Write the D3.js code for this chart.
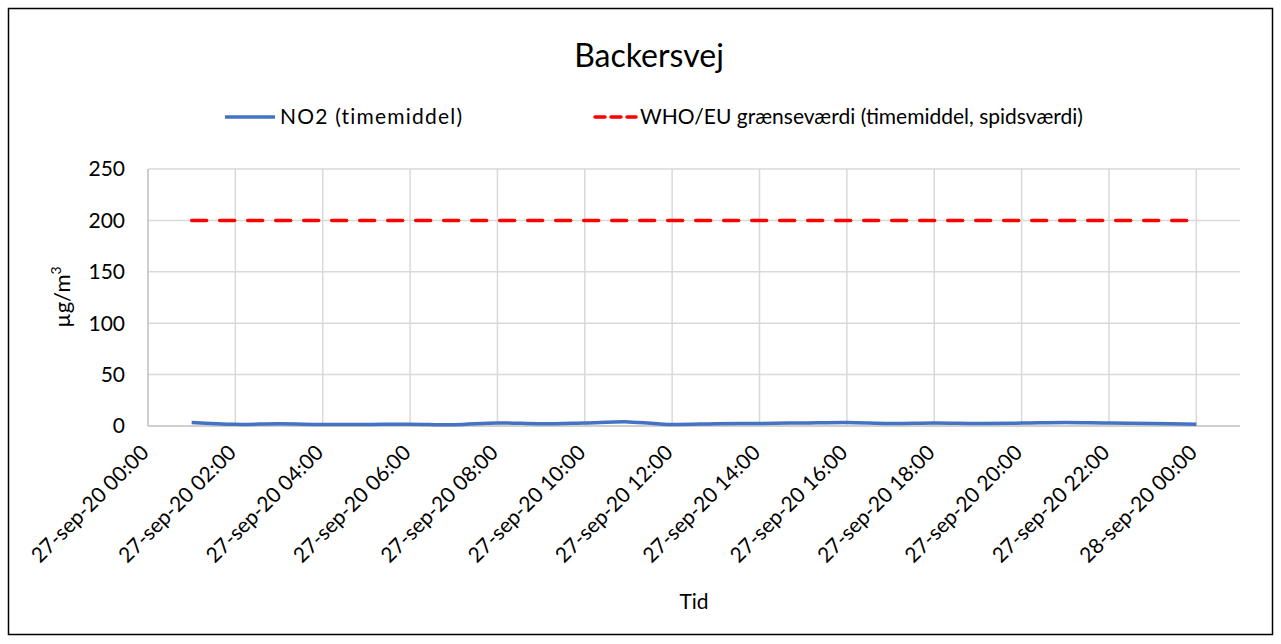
<!DOCTYPE html>
<html><head><meta charset="utf-8">
<script src="https://cdn.jsdelivr.net/npm/d3@7"></script>
<style>
body{margin:0;background:#fff}
text{font-family:Lato,'Liberation Sans',sans-serif;fill:#000}
</style>
</head><body>
<svg id="c" width="1281" height="644"></svg>
<script>
// ---- data ----
const hours = [1,2,3,4,5,6,7,8,9,10,11,12,13,14,15,16,17,18,19,20,21,22,23,24];
const no2   = [3.5,1.6,2.1,1.5,1.5,1.8,1.2,3.0,2.2,3.0,4.0,1.5,2.2,2.5,3.0,3.5,2.5,3.0,2.5,2.8,3.4,2.8,2.5,1.8];
const limitValues = [200,200,200,200,200,200,200,200,200,200,200,200,200,200,200,200,200,200,200,200,200,200,200,200];
const xTickHours  = [0,2,4,6,8,10,12,14,16,18,20,22,24];
const xTickLabels = ["27-sep-20 00:00","27-sep-20 02:00","27-sep-20 04:00","27-sep-20 06:00","27-sep-20 08:00","27-sep-20 10:00","27-sep-20 12:00","27-sep-20 14:00","27-sep-20 16:00","27-sep-20 18:00","27-sep-20 20:00","27-sep-20 22:00","28-sep-20 00:00"];
const yTicks = [0,50,100,150,200,250];
const seriesNames = ["NO2 (timemiddel)","WHO/EU grænseværdi (timemiddel, spidsværdi)"];

// ---- layout ----
const svg = d3.select("#c");
const L = 148, R = 1240, T = 169, B = 426;
const x = d3.scaleLinear().domain([0, 25]).range([L, R]);
const y = d3.scaleLinear().domain([0, 250]).range([B, T]);

svg.append("rect").attr("x",8.5).attr("y",8.5).attr("width",1264).attr("height",626)
   .attr("fill","#fff").attr("stroke","#000").attr("stroke-width",1.5);

svg.append("text").attr("x",649).attr("y",67).attr("text-anchor","middle")
   .style("font-size","32px").text("Backersvej");

// gridlines
const g = svg.append("g");
g.selectAll(".hg").data(yTicks.filter(d=>d>0)).join("line")
  .attr("x1",L).attr("x2",R).attr("y1",d=>y(d)).attr("y2",d=>y(d))
  .attr("stroke","#d9d9d9").attr("stroke-width",1.5);
g.selectAll(".vg").data(xTickHours.filter(d=>d>0)).join("line")
  .attr("x1",d=>x(d)).attr("x2",d=>x(d)).attr("y1",T).attr("y2",B)
  .attr("stroke","#d9d9d9").attr("stroke-width",1.5);
// axes lines
g.append("line").attr("x1",L).attr("x2",L).attr("y1",T).attr("y2",B).attr("stroke","#bfbfbf").attr("stroke-width",1.5);
g.append("line").attr("x1",L).attr("x2",R).attr("y1",B).attr("y2",B).attr("stroke","#bfbfbf").attr("stroke-width",1.5);

// y tick labels
svg.selectAll(".yt").data(yTicks).join("text")
  .attr("x",125).attr("y",d=>y(d)).attr("dy","0.35em").attr("text-anchor","end")
  .style("font-size","21px").text(d=>d);

// x tick labels
svg.selectAll(".xt").data(xTickHours).join("text")
  .attr("text-anchor","end")
  .attr("transform",(d)=>`translate(${x(d)+2},${454}) rotate(-45)`)
  .style("font-size","21px").text((d,i)=>xTickLabels[i]);

// axis titles
svg.append("text").attr("x",694).attr("y",609).attr("text-anchor","middle").style("font-size","21px").text("Tid");
const yt = svg.append("text").attr("transform","translate(70,297) rotate(-90)").attr("text-anchor","middle").style("font-size","22px");
yt.append("tspan").text("µg/m");
yt.append("tspan").attr("dy","-9").style("font-size","14px").text("3");

// lines
const curve = d3.curveCatmullRom.alpha(0.5);
svg.append("path").datum(limitValues)
  .attr("fill","none").attr("stroke","#ff0000").attr("stroke-width",3.5)
  .attr("stroke-dasharray","15,13").attr("stroke-linecap","round")
  .attr("d", d3.line().x((d,i)=>x(hours[i])).y(d=>y(d)));
svg.append("path").datum(no2)
  .attr("fill","none").attr("stroke","#4472c4").attr("stroke-width",3.5)
  .attr("d", d3.line().x((d,i)=>x(hours[i])).y(d=>y(d)).curve(curve));

// legend
const lg = svg.append("g");
lg.append("line").attr("x1",225).attr("x2",275).attr("y1",117).attr("y2",117).attr("stroke","#4472c4").attr("stroke-width",3.5);
lg.append("text").attr("x",280).attr("y",117).attr("dy","0.35em").style("font-size","21px").style("letter-spacing","1.2px").text(seriesNames[0]);
lg.append("line").attr("x1",595).attr("x2",636).attr("y1",117).attr("y2",117).attr("stroke","#ff0000").attr("stroke-width",3.5)
  .attr("stroke-dasharray","10,6").attr("stroke-linecap","round");
lg.append("text").attr("x",640).attr("y",117).attr("dy","0.35em").style("font-size","21px").text(seriesNames[1]);
</script>
</body></html>
